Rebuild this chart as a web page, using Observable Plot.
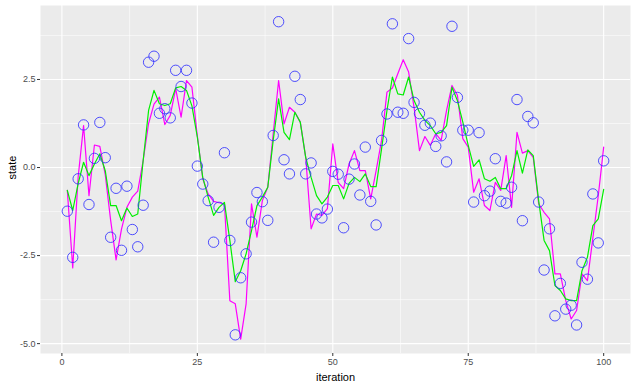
<!DOCTYPE html>
<html><head><meta charset="utf-8">
<script src="https://cdn.jsdelivr.net/npm/d3@7"></script>
<script src="https://cdn.jsdelivr.net/npm/@observablehq/plot@0.6"></script>
<style>body{margin:0;background:#fff;font-family:"Liberation Sans",Arial,sans-serif}</style>
</head><body><div id="chart"></div>
<script>
const observed = [-1.24,-2.55,-0.32,1.21,-1.05,0.26,1.28,0.28,-1.98,-0.59,-2.35,-0.53,-1.76,-2.25,-1.07,2.99,3.16,1.54,1.67,1.41,
2.76,2.30,2.76,1.83,0.04,-0.47,-0.94,-2.12,-1.13,0.42,-2.07,-4.75,-3.13,-2.45,-1.55,-0.71,-0.97,-1.50,0.91,4.14,
0.22,-0.18,2.59,1.93,-0.18,0.13,-1.32,-1.43,-1.18,-0.11,-0.19,-1.71,-0.33,0.10,-0.78,0.58,-0.96,-1.63,0.77,1.52,
4.08,1.57,1.54,3.66,1.85,1.53,1.20,1.26,0.60,0.90,0.16,4.01,1.99,1.06,1.06,-0.98,0.99,-0.80,-0.67,0.25,
-0.96,-1.01,-0.56,1.93,-1.51,1.45,1.27,-0.98,-2.91,-1.74,-4.21,-3.29,-4.02,-3.91,-4.47,-2.69,-3.17,-0.75,-2.14,0.19];
const magentaSeries = [-0.65,-2.85,-0.27,1.19,-0.80,0.64,0.60,-0.20,-1.50,-2.62,-1.75,-1.13,-0.84,-0.67,0.20,1.25,1.80,2.00,1.22,1.48,
2.24,1.43,2.47,2.28,0.90,-0.32,-0.75,-0.96,-1.00,-1.03,-3.78,-3.87,-4.87,-3.87,-1.03,-1.98,-0.94,-0.56,0.96,2.47,
1.24,1.71,1.57,1.29,0.29,-1.74,-1.32,-1.36,-1.17,0.67,-0.42,-0.60,0.10,0.48,-0.09,-0.09,-0.89,-0.09,0.77,2.14,
2.26,2.66,3.06,2.71,1.71,0.48,0.88,0.63,0.96,0.77,1.62,2.33,2.05,0.82,0.58,-0.70,-0.32,-1.08,-1.22,-0.42,
-0.65,0.34,-1.13,1.00,0.41,0.48,0.29,-1.03,-1.27,-1.46,-3.02,-3.02,-3.78,-4.30,-4.06,-3.02,-3.21,-2.00,-0.80,0.58];
const greenSeries = [-0.65,-1.22,-0.46,0.15,-0.23,0.10,0.39,-0.09,-1.08,-1.08,-1.51,-1.15,-1.39,-1.32,0.20,1.62,2.19,1.81,1.76,1.81,
2.26,2.30,2.19,1.75,0.86,-0.28,-0.84,-1.36,-1.13,-0.99,-2.07,-3.24,-2.93,-2.45,-1.79,-1.08,-0.84,-0.56,0.77,1.95,
1.00,0.79,1.57,1.29,0.29,-0.28,-0.80,-1.03,-0.84,-0.51,-0.51,-0.89,-0.45,-0.28,-0.40,-0.18,-0.54,-0.54,0.53,1.62,
2.57,2.09,2.06,2.57,1.90,1.57,1.34,1.19,0.96,1.00,1.19,2.28,1.90,1.29,0.63,0.03,0.22,-0.32,-0.39,-0.28,
-0.60,-0.60,-0.23,0.48,-0.16,0.50,0.34,-0.94,-2.07,-2.36,-3.35,-3.49,-3.73,-3.78,-3.78,-2.93,-2.55,-1.65,-1.46,-0.62];
const xTicks = [0, 25, 50, 75, 100];
const yTicks = [-5.0, -2.5, 0.0, 2.5];
const xMinor = [12.5, 37.5, 62.5, 87.5];
const yMinor = [-3.75, -1.25, 1.25, 3.75];

const rows = observed.map((v, i) => ({iteration: i + 1, observed: v, magenta: magentaSeries[i], green: greenSeries[i]}));

const chart = Plot.plot({
  width: 636, height: 385,
  marginLeft: 40, marginRight: 6, marginTop: 5, marginBottom: 32,
  style: {fontFamily: "Liberation Sans, Arial, sans-serif", background: "#fff"},
  x: {domain: [-3.95, 104.95]},
  y: {domain: [-5.28, 4.60]},
  marks: [
    Plot.frame({fill: "#EBEBEB", stroke: null}),
    Plot.ruleX(xMinor, {stroke: "#fff", strokeWidth: 0.55}),
    Plot.ruleY(yMinor, {stroke: "#fff", strokeWidth: 0.55}),
    Plot.ruleX(xTicks, {stroke: "#fff", strokeWidth: 1.1}),
    Plot.ruleY(yTicks, {stroke: "#fff", strokeWidth: 1.1}),
    Plot.line(rows, {x: "iteration", y: "magenta", stroke: "#FF00FF", strokeWidth: 1.2}),
    Plot.line(rows, {x: "iteration", y: "green", stroke: "#00EE00", strokeWidth: 1.2}),
    Plot.dot(rows, {x: "iteration", y: "observed", r: 5.2, stroke: "#3333FF", strokeOpacity: 0.85, strokeWidth: 1, fill: "none"}),
    Plot.axisX(xTicks, {tickSize: 3, tickPadding: 2, stroke: "#333", fontSize: 9, color: "#4D4D4D", tickFormat: d => String(d), label: null}),
    Plot.axisY(yTicks, {tickSize: 3, tickPadding: 2, stroke: "#333", fontSize: 9, color: "#4D4D4D", tickFormat: d => d.toFixed(1), label: null}),
    Plot.text(["iteration"], {frameAnchor: "bottom", dy: 27, fontSize: 11, fill: "#000", text: d => d}),
    Plot.text(["state"], {frameAnchor: "left", dx: -28, rotate: -90, fontSize: 11, fill: "#000", text: d => d})
  ]
});
document.getElementById("chart").appendChild(chart);
</script></body></html>
